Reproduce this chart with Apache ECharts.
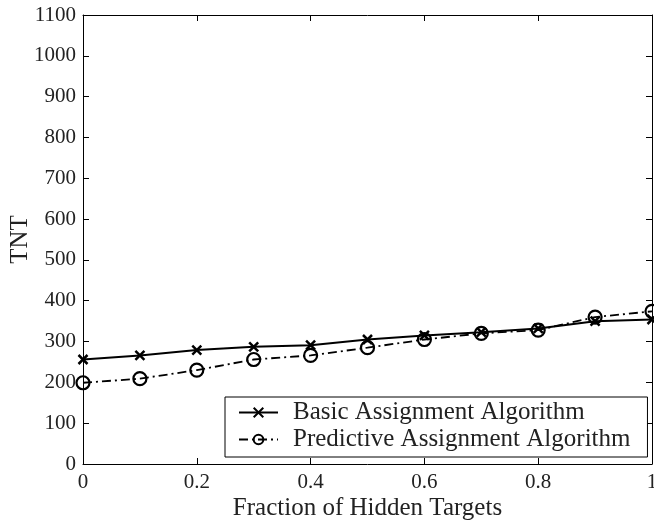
<!DOCTYPE html>
<html><head><meta charset="utf-8">
<script src="https://cdn.jsdelivr.net/npm/echarts@6/dist/echarts.min.js"></script>
<style>html,body{margin:0;padding:0;background:#fff}#c{width:654px;height:524px}</style>
</head><body><div id="c"></div>
<script>
const xValues = [0, 0.1, 0.2, 0.3, 0.4, 0.5, 0.6, 0.7, 0.8, 0.9, 1.0];
const basic = [256, 266, 279, 287, 291, 305, 315, 323, 332, 350, 354];
const predictive = [199, 209, 230, 256, 266, 285, 305, 320, 328, 360, 374];
const yTicks = [0, 100, 200, 300, 400, 500, 600, 700, 800, 900, 1000, 1100];
const xTicks = [0, 0.2, 0.4, 0.6, 0.8, 1];
const seriesNames = ['Basic Assignment Algorithm', 'Predictive Assignment Algorithm'];

const font = 'Liberation Serif';
const chart = echarts.init(document.getElementById('c'));
const pair = (xs, ys) => xs.map((x, i) => [x, ys[i]]);
const axisCommon = {
  axisLine: {show: true, onZero: false, lineStyle: {color: '#000', width: 1}},
  axisTick: {show: true, inside: true, length: 6, lineStyle: {color: '#000'}},
  splitLine: {show: false}
};
chart.setOption({
  animation: false,
  grid: {left: 83, top: 15, right: 2, bottom: 60, containLabel: false, outerBoundsMode: 'none'},
  xAxis: [
    Object.assign({type: 'value', min: xTicks[0], max: xTicks[xTicks.length - 1], interval: 0.2,
      name: 'Fraction of Hidden Targets', nameLocation: 'middle', nameGap: 32, nameMoveOverlap: false,
      nameTextStyle: {fontFamily: font, fontSize: 25, color: '#222'},
      axisLabel: {fontFamily: font, fontSize: 21, color: '#222', margin: 8,
        formatter: v => String(+v.toFixed(1))}}, axisCommon),
    Object.assign({type: 'value', min: 0, max: 1, interval: 0.2, position: 'top',
      axisLabel: {show: false}}, axisCommon)
  ],
  yAxis: [
    Object.assign({type: 'value', min: yTicks[0], max: yTicks[yTicks.length - 1], interval: 100,
      name: 'TNT', nameLocation: 'middle', nameGap: 50, nameMoveOverlap: false,
      nameTextStyle: {fontFamily: font, fontSize: 25, color: '#222'},
      axisLabel: {fontFamily: font, fontSize: 21, color: '#222', margin: 7,
        formatter: v => String(v)}}, axisCommon),
    Object.assign({type: 'value', min: 0, max: 1100, interval: 100, position: 'right',
      axisLabel: {show: false}}, axisCommon)
  ],
  legend: {
    orient: 'vertical', left: 225, top: 397,
    backgroundColor: '#fff', borderColor: '#000', borderWidth: 1,
    padding: [3, 17, 5, 13], itemGap: 2, itemWidth: 39, itemHeight: 12,
    textStyle: {fontFamily: font, fontSize: 25, color: '#222', padding: [0, 0, 0, 10]},
    data: seriesNames
  },
  series: [
    {name: seriesNames[0], type: 'line', data: pair(xValues, basic),
      symbol: 'path://M0,0L10,10M10,0L0,10', symbolSize: 9,
      lineStyle: {color: '#000', width: 2},
      itemStyle: {color: '#000', borderColor: '#000', borderWidth: 2.5}},
    {name: seriesNames[1], type: 'line', data: pair(xValues, predictive),
      symbol: 'circle', symbolSize: 13,
      lineStyle: {color: '#000', width: 1.8, type: [9, 4, 2, 4]},
      itemStyle: {color: 'rgba(0,0,0,0)', borderColor: '#000', borderWidth: 2.2}}
  ]
});
</script></body></html>
